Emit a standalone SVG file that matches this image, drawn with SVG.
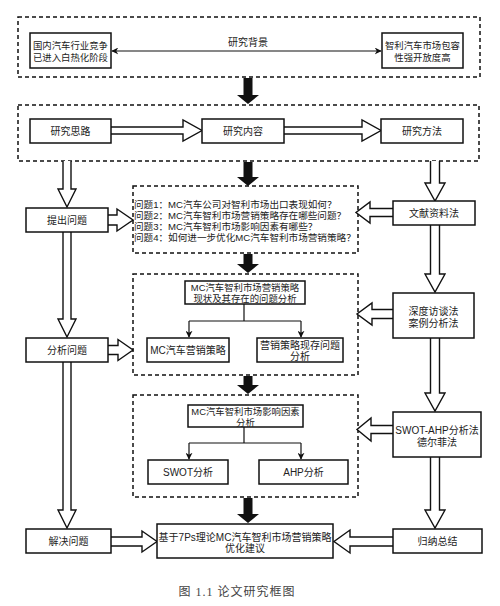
<svg xmlns="http://www.w3.org/2000/svg" width="500" height="606" viewBox="0 0 500 606">
<defs>
<style>
.t{font-family:"Liberation Sans","Noto Sans CJK SC",sans-serif;font-size:10px;fill:#222;text-anchor:middle}
.s{font-size:9.4px}
.q{font-family:"Liberation Sans","Noto Sans CJK SC",sans-serif;font-size:9.6px;fill:#222}
.cap{font-family:"Liberation Serif","Noto Sans CJK SC",serif;font-size:12px;fill:#444;text-anchor:middle;letter-spacing:1px}
.box{fill:#fff;stroke:#111;stroke-width:1.5}
.dash{fill:none;stroke:#111;stroke-width:1.5;stroke-dasharray:4 3}
.ho{fill:#fff;stroke:#111;stroke-width:1.4;stroke-linejoin:miter}
.bk{fill:#111;stroke:none}
.ln{fill:none;stroke:#111;stroke-width:1.2}
</style>
<marker id="ah" viewBox="0 0 10 10" refX="9" refY="5" markerWidth="7" markerHeight="7" orient="auto-start-reverse" markerUnits="userSpaceOnUse">
<path d="M0,0 L10,5 L0,10 L3,5 Z" fill="#111"/>
</marker>
</defs>
<rect width="500" height="606" fill="#fff"/>

<g id="containers">
<rect class="dash" x="18" y="17" width="462" height="60"/>
<rect class="dash" x="18" y="105" width="461" height="56"/>
<rect class="dash" x="133" y="186" width="225" height="67"/>
<rect class="dash" x="133" y="274" width="225" height="101"/>
<rect class="dash" x="133" y="395" width="225" height="102"/>
</g>

<g id="connectors">
<line class="ln" x1="112" y1="51" x2="381" y2="51" marker-start="url(#ah)" marker-end="url(#ah)"/>
<text class="t" x="248" y="46">研究背景</text>
<polygon class="bk" points="243.5,78 252.5,78 252.5,95 259,95 248,104 237,95 243.5,95"/>
<polygon class="bk" points="243.5,162 252.5,162 252.5,177 259,177 248,186 237,177 243.5,177"/>
<polygon class="bk" points="243.5,254 252.5,254 252.5,264 259,264 248,273 237,264 243.5,264"/>
<polygon class="bk" points="243.5,376 252.5,376 252.5,385 259,385 248,394 237,385 243.5,385"/>
<polygon class="bk" points="243.5,498 252.5,498 252.5,514 259,514 248,523 237,514 243.5,514"/>
<path class="ho" d="M63,161 V189 H58 L67,207 L76,189 H71 V161"/>
<path class="ho" d="M63,232 V319 H58 L67,337 L76,319 H71 V232"/>
<path class="ho" d="M63,362 V510 H58 L67,528 L76,510 H71 V362"/>
<path class="ho" d="M430.5,161 V183 H425 L435,201 L445,183 H439.5 V161"/>
<path class="ho" d="M430.5,225 V274 H425 L435,292 L445,274 H439.5 V225"/>
<path class="ho" d="M430.5,338 V393 H425 L435,411 L445,393 H439.5 V338"/>
<path class="ho" d="M430.5,457 V510 H425 L435,528 L445,510 H439.5 V457"/>
<path class="ho" d="M111,127 H183 V120 L202,130.5 L183,141 V134 H111"/>
<path class="ho" d="M284,127 H362 V120 L381,130.5 L362,141 V134 H284"/>
<path class="ho" d="M108,215 H117 V209 L133,220 L117,231 V225 H108"/>
<path class="ho" d="M108,345.5 H118 V339.5 L133,350 L118,360.5 V354.5 H108"/>
<path class="ho" d="M111,537 H142 V531 L157,541.5 L142,552 V546 H111"/>
<path class="ho" d="M393,208.5 H370 V202 L356,212.5 L370,223 V216.5 H393"/>
<path class="ho" d="M393,309.5 H372 V303 L357,314 L372,325 V318.5 H393"/>
<path class="ho" d="M393,425.5 H371 V418 L357,429.5 L371,441 V433.5 H393"/>
<path class="ho" d="M393,537 H350 V530 L334,541.5 L350,553 V546 H393"/>
<path class="ln" d="M244,304 V321 M189,321 H301"/>
<line class="ln" x1="189" y1="321" x2="189" y2="337" marker-end="url(#ah)"/>
<line class="ln" x1="301" y1="321" x2="301" y2="337" marker-end="url(#ah)"/>
<path class="ln" d="M244,427 V443 M189,443 H301"/>
<line class="ln" x1="189" y1="443" x2="189" y2="459" marker-end="url(#ah)"/>
<line class="ln" x1="301" y1="443" x2="301" y2="459" marker-end="url(#ah)"/>
</g>

<g id="n-bg-left"><rect class="box" x="30" y="33" width="81" height="35"/>
<text class="t s" x="70.5" y="48.5">国内汽车行业竞争</text><text class="t s" x="70.5" y="60.5">已进入白热化阶段</text></g>
<g id="n-bg-right"><rect class="box" x="382" y="33" width="81" height="35"/>
<text class="t s" x="422.5" y="48.5">智利汽车市场包容</text><text class="t s" x="422.5" y="60.5">性强开放度高</text></g>

<g id="n-silu"><rect class="box" x="30" y="119" width="81" height="24"/><text class="t" x="70.5" y="134.5">研究思路</text></g>
<g id="n-neirong"><rect class="box" x="202" y="119" width="82" height="24"/><text class="t" x="243" y="134.5">研究内容</text></g>
<g id="n-fangfa"><rect class="box" x="381" y="119" width="82" height="24"/><text class="t" x="422" y="134.5">研究方法</text></g>

<g id="n-tichu"><rect class="box" x="26" y="208" width="82" height="24"/><text class="t" x="67" y="223.5">提出问题</text></g>
<g id="n-fenxi"><rect class="box" x="26" y="338" width="82" height="24"/><text class="t" x="67" y="353.5">分析问题</text></g>
<g id="n-jiejue"><rect class="box" x="26" y="529" width="85" height="24"/><text class="t" x="68.5" y="544.5">解决问题</text></g>

<g id="n-wenxian"><rect class="box" x="393" y="201" width="82" height="24"/><text class="t" x="434" y="216.5">文献资料法</text></g>
<g id="n-shendu"><rect class="box" x="393" y="293" width="81" height="45"/>
<text class="t" x="433.5" y="315">深度访谈法</text><text class="t" x="433.5" y="327">案例分析法</text></g>
<g id="n-swotahp"><rect class="box" x="393" y="412" width="88" height="45"/>
<text class="t" x="437" y="433.5">SWOT-AHP分析法</text><text class="t" x="437" y="445.5">德尔菲法</text></g>
<g id="n-guina"><rect class="box" x="393" y="529" width="89" height="24"/><text class="t" x="437.5" y="544.5">归纳总结</text></g>

<g id="n-questions">
<text class="q" x="134" y="207.5">问题1：MC汽车公司对智利市场出口表现如何？</text>
<text class="q" x="134" y="218.5">问题2：MC汽车智利市场营销策略存在哪些问题？</text>
<text class="q" x="134" y="229.5">问题3：MC汽车智利市场影响因素有哪些？</text>
<text class="q" x="134" y="240.5">问题4：如何进一步优化MC汽车智利市场营销策略？</text>
</g>

<g id="n-xianzhuang"><rect class="box" x="185" y="281" width="120" height="23"/>
<text class="t s" x="245" y="290.5">MC汽车智利市场营销策略</text><text class="t s" x="245" y="301.5">现状及其存在的问题分析</text></g>
<g id="n-mcyingxiao"><rect class="box" x="147" y="338" width="82" height="24"/><text class="t" x="188" y="354">MC汽车营销策略</text></g>
<g id="n-xiancun"><rect class="box" x="257" y="338" width="86" height="24"/>
<text class="t" x="300" y="348.5">营销策略现存问题</text><text class="t" x="300" y="359.5">分析</text></g>

<g id="n-yingxiang"><rect class="box" x="188" y="405" width="115" height="22"/>
<text class="t s" x="245.5" y="414.5">MC汽车智利市场影响因素</text><text class="t s" x="245.5" y="425.5">分析</text></g>
<g id="n-swot"><rect class="box" x="148" y="460" width="80" height="24"/><text class="t" x="188" y="475.5">SWOT分析</text></g>
<g id="n-ahp"><rect class="box" x="259" y="460" width="89" height="24"/><text class="t" x="303.5" y="475.5">AHP分析</text></g>

<g id="n-final"><rect class="box" x="157" y="524" width="176" height="34"/>
<text class="t" x="245" y="540.5">基于7Ps理论MC汽车智利市场营销策略</text><text class="t" x="245" y="551.5">优化建议</text></g>

<text class="cap" x="237" y="596">图 1.1 论文研究框图</text>
</svg>
